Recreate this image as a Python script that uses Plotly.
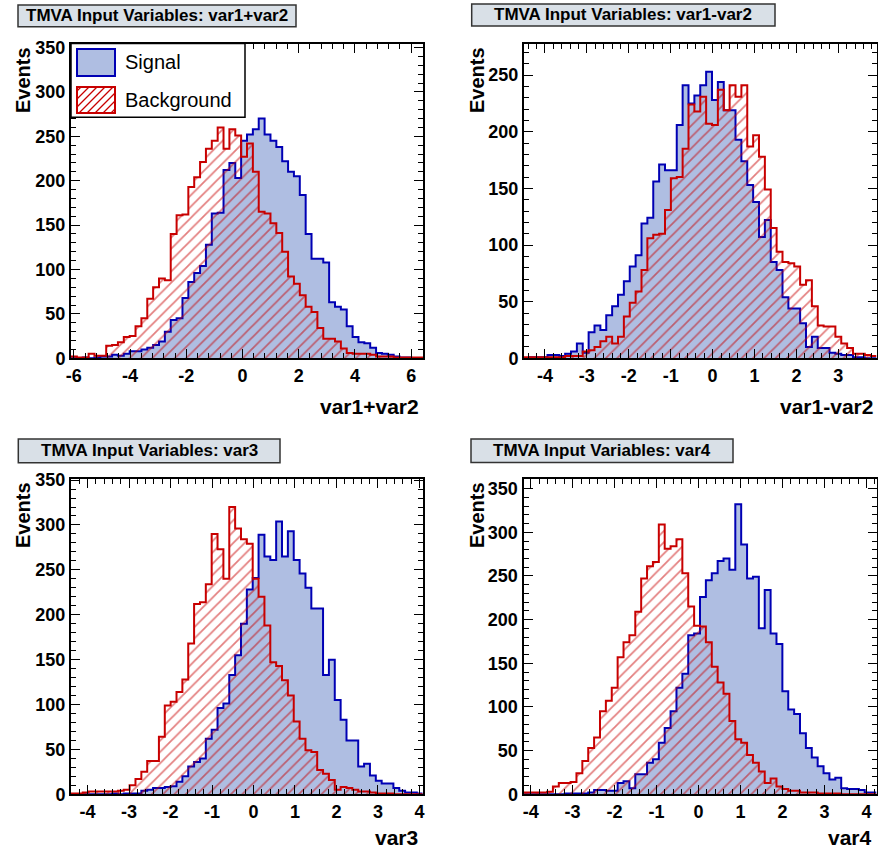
import numpy as np
import plotly.graph_objects as go

W, H = 878, 851

# ---------------- data (60 bins per histogram) ----------------
p1_range = (-6.10, 6.42)
p1_sig = [0, 0, 1, 0, 1, 2, 2, 4, 3, 5, 8, 8, 10, 12, 15, 19, 30, 43, 45, 68,
          86, 96, 104, 128, 163, 164, 212, 220, 203, 245, 252, 258, 270, 252, 245, 238, 222, 210, 205, 184,
          140, 112, 112, 108, 63, 58, 55, 36, 24, 18, 17, 12, 6, 5, 4, 2, 1, 1, 0, 0]
p1_bkg = [2, 1, 1, 5, 3, 3, 14, 15, 18, 24, 25, 36, 45, 67, 80, 90, 88, 140, 161, 162,
          193, 204, 221, 236, 245, 260, 236, 258, 251, 227, 242, 210, 165, 163, 152, 141, 120, 92, 84, 71,
          58, 52, 34, 22, 22, 19, 11, 6, 5, 5, 5, 4, 2, 2, 2, 1, 1, 1, 1, 1]

p2_range = (-4.50, 3.91)
p2_sig = [0, 1, 1, 1, 3, 3, 2, 4, 6, 13, 5, 23, 29, 25, 38, 46, 56, 68, 81, 91,
          119, 124, 156, 171, 166, 166, 206, 241, 225, 232, 241, 253, 228, 244, 219, 219, 193, 174, 153, 138,
          107, 122, 85, 78, 54, 44, 44, 31, 10, 19, 9, 9, 5, 4, 3, 3, 1, 1, 0, 0]
p2_bkg = [1, 1, 1, 1, 1, 1, 1, 2, 2, 2, 6, 7, 10, 15, 19, 13, 19, 37, 49, 59,
          78, 106, 109, 110, 131, 159, 160, 185, 224, 218, 231, 207, 206, 237, 219, 241, 231, 241, 187, 197,
          178, 149, 115, 94, 85, 84, 81, 65, 69, 46, 29, 28, 28, 19, 13, 9, 4, 4, 3, 2]

p3_range = (-4.40, 4.08)
p3_sig = [0, 0, 0, 0, 0, 0, 0, 1, 0, 1, 1, 1, 4, 5, 7, 7, 8, 9, 14, 20,
          31, 36, 40, 62, 72, 96, 101, 133, 155, 190, 228, 241, 289, 265, 261, 304, 265, 293, 261, 246,
          230, 207, 207, 133, 150, 105, 83, 60, 60, 31, 34, 21, 15, 12, 12, 7, 4, 2, 2, 1]
p3_bkg = [1, 1, 2, 3, 3, 3, 3, 3, 4, 5, 10, 17, 25, 37, 37, 64, 99, 103, 114, 128,
          168, 212, 214, 234, 290, 273, 240, 320, 296, 284, 279, 240, 220, 188, 147, 143, 127, 110, 81, 62,
          49, 47, 27, 23, 16, 5, 8, 7, 5, 3, 3, 2, 1, 1, 1, 0, 0, 0, 0, 0]

p4_range = (-4.17, 4.24)
p4_sig = [0, 0, 0, 0, 0, 0, 0, 1, 1, 1, 1, 2, 5, 5, 4, 4, 13, 15, 7, 23,
          23, 36, 40, 59, 76, 95, 122, 138, 182, 184, 226, 245, 253, 267, 270, 257, 332, 286, 247, 249,
          190, 234, 184, 172, 118, 97, 92, 70, 53, 42, 32, 24, 17, 19, 7, 6, 6, 5, 2, 2]
p4_bkg = [2, 2, 2, 2, 3, 9, 13, 13, 14, 24, 38, 53, 65, 95, 107, 122, 157, 174, 182, 209,
          247, 261, 266, 309, 281, 284, 292, 253, 215, 193, 192, 174, 146, 128, 115, 84, 63, 59, 45, 36,
          26, 13, 18, 9, 6, 4, 4, 2, 2, 2, 1, 1, 1, 1, 0, 0, 0, 0, 0, 0]

var_names = ["var1+var2", "var1-var2", "var3", "var4"]
x_tickvals = [[-6, -4, -2, 0, 2, 4, 6],
              [-4, -3, -2, -1, 0, 1, 2, 3],
              [-4, -3, -2, -1, 0, 1, 2, 3, 4],
              [-4, -3, -2, -1, 0, 1, 2, 3, 4]]
y_tickvals = [[0, 50, 100, 150, 200, 250, 300, 350],
              [0, 50, 100, 150, 200, 250],
              [0, 50, 100, 150, 200, 250, 300, 350],
              [0, 50, 100, 150, 200, 250, 300, 350]]
y_max = [354.5, 277.5, 351.2, 361.0]
x_minor = [0.4, 0.2, 0.2, 0.2]
legend_labels = ["Signal", "Background"]

ranges = [p1_range, p2_range, p3_range, p4_range]
sigs = [p1_sig, p2_sig, p3_sig, p4_sig]
bkgs = [p1_bkg, p2_bkg, p3_bkg, p4_bkg]

# ---------------- layout geometry (pixels) ----------------
frames = [(71, 423, 43.5, 358.3), (524, 876.5, 44, 358.3),
          (71, 422.7, 479, 794.3), (523.5, 876.5, 479, 794.3)]
title_boxes = [(18, 296, 5, 26.7), (471.7, 775, 4, 26),
               (18.3, 280, 439, 462.7), (471, 733, 439, 462.5)]
xtitle_pos = [(421, 406.7), (875, 406.7), (420, 837), (874, 837)]
ytitle_pos = [(23, 45), (477, 45), (23, 480), (477, 480)]

SIG_LINE = "#0000b4"
SIG_FILL = "#afbee2"
BKG_LINE = "#c80000"
FONT = "Liberation Sans"


def px(x):
    return x / W


def py(y):
    return 1 - y / H


fig = go.Figure()
shapes = []
annotations = []

for i in range(4):
    ax = "" if i == 0 else str(i + 1)
    lo, hi = ranges[i]
    n = len(sigs[i])
    edges = np.linspace(lo, hi, n + 1)
    for vals, name in ((sigs[i], "sig"), (bkgs[i], "bkg")):
        yv = list(vals) + [vals[-1]]
        if name == "sig":
            fig.add_trace(go.Scatter(
                x=edges, y=yv, mode="lines", line=dict(shape="hv", color=SIG_LINE, width=2),
                fill="tozeroy", fillcolor=SIG_FILL, xaxis="x" + ax, yaxis="y" + ax,
                showlegend=False, hoverinfo="skip"))
        else:
            fig.add_trace(go.Scatter(
                x=edges, y=yv, mode="lines", line=dict(shape="hv", color=BKG_LINE, width=2),
                fill="tozeroy", fillcolor="rgba(0,0,0,0)",
                fillpattern=dict(shape="/", fgcolor=BKG_LINE, bgcolor="rgba(0,0,0,0)",
                                 size=8, solidity=0.22),
                xaxis="x" + ax, yaxis="y" + ax, showlegend=False, hoverinfo="skip"))

    x0, x1, y0, y1 = frames[i]
    common = dict(showline=True, linewidth=2, linecolor="black", mirror="allticks",
                  ticks="inside", ticklen=9, tickwidth=1, tickcolor="black",
                  showgrid=False, zeroline=False,
                  tickfont=dict(family=FONT, size=18, weight="bold", color="black"))
    fig.layout["xaxis" + ax] = dict(
        domain=[px(x0), px(x1)], range=[lo, hi], anchor="y" + ax,
        tickmode="array", tickvals=x_tickvals[i], ticktext=[str(v) for v in x_tickvals[i]],
        minor=dict(ticks="inside", ticklen=5, tickwidth=1, tickcolor="black",
                   tickmode="linear", tick0=0, dtick=x_minor[i], showgrid=False),
        **common)
    fig.layout["yaxis" + ax] = dict(
        domain=[py(y1), py(y0)], range=[0, y_max[i]], anchor="x" + ax,
        tickmode="array", tickvals=y_tickvals[i], ticktext=[str(v) for v in y_tickvals[i]],
        minor=dict(ticks="inside", ticklen=5, tickwidth=1, tickcolor="black",
                   tickmode="linear", tick0=0, dtick=10, showgrid=False),
        **common)

    # title box
    bx0, bx1, by0, by1 = title_boxes[i]
    shapes.append(dict(type="rect", xref="paper", yref="paper", x0=px(bx0), x1=px(bx1),
                       y0=py(by1), y1=py(by0), fillcolor="#d9e0e7",
                       line=dict(color="#333333", width=1.5), layer="above"))
    annotations.append(dict(text="<b>TMVA Input Variables: " + var_names[i] + "</b>",
                            xref="paper", yref="paper", x=px((bx0 + bx1) / 2), y=py((by0 + by1) / 2),
                            xanchor="center", yanchor="middle", showarrow=False,
                            font=dict(family=FONT, size=17, color="black")))
    # axis titles
    tx, ty = xtitle_pos[i]
    annotations.append(dict(text="<b>" + var_names[i] + "</b>", xref="paper", yref="paper",
                            x=px(tx), y=py(ty), xanchor="right", yanchor="middle", showarrow=False,
                            font=dict(family=FONT, size=21, color="black")))
    ex, ey = ytitle_pos[i]
    annotations.append(dict(text="<b>Events</b>", xref="paper", yref="paper", textangle=-90,
                            x=px(ex), y=py(ey), xanchor="center", yanchor="top", showarrow=False,
                            font=dict(family=FONT, size=20, color="black")))

# ---------------- legend (panel 1) ----------------
lx0, lx1, ly0, ly1 = 71, 245, 43.5, 117.3
shapes.append(dict(type="rect", xref="paper", yref="paper", x0=px(lx0), x1=px(lx1),
                   y0=py(ly1), y1=py(ly0), fillcolor="white", line=dict(color="black", width=1.5),
                   layer="above"))
sw = [(77, 115, 49, 76), (77, 115, 87, 113)]
shapes.append(dict(type="rect", xref="paper", yref="paper", x0=px(sw[0][0]), x1=px(sw[0][1]),
                   y0=py(sw[0][3]), y1=py(sw[0][2]), fillcolor=SIG_FILL,
                   line=dict(color=SIG_LINE, width=2), layer="above"))
hx0, hx1, hy0, hy1 = sw[1]
shapes.append(dict(type="rect", xref="paper", yref="paper", x0=px(hx0), x1=px(hx1),
                   y0=py(hy1), y1=py(hy0), fillcolor="white",
                   line=dict(color=BKG_LINE, width=0), layer="above"))
c = hx0 + hy0 + 4
while c < hx1 + hy1:
    xa = max(hx0, c - hy1)
    xb = min(hx1, c - hy0)
    if xb > xa:
        shapes.append(dict(type="line", xref="paper", yref="paper",
                           x0=px(xa), y0=py(c - xa), x1=px(xb), y1=py(c - xb),
                           line=dict(color=BKG_LINE, width=1.3), layer="above"))
    c += 8
shapes.append(dict(type="rect", xref="paper", yref="paper", x0=px(hx0), x1=px(hx1),
                   y0=py(hy1), y1=py(hy0), fillcolor="rgba(0,0,0,0)",
                   line=dict(color=BKG_LINE, width=2), layer="above"))
for k, lab in enumerate(legend_labels):
    annotations.append(dict(text=lab, xref="paper", yref="paper", x=px(123),
                            y=py((sw[k][2] + sw[k][3]) / 2), xanchor="left", yanchor="middle",
                            showarrow=False, font=dict(family=FONT, size=20, color="black")))

fig.update_layout(width=W, height=H, margin=dict(l=0, r=0, t=0, b=0, autoexpand=False),
                  paper_bgcolor="white", plot_bgcolor="white", shapes=shapes,
                  annotations=annotations, showlegend=False)

fig.write_html("out.html", config={"displayModeBar": False},
               post_script="document.body.style.margin='0';document.body.style.overflow='hidden';")
